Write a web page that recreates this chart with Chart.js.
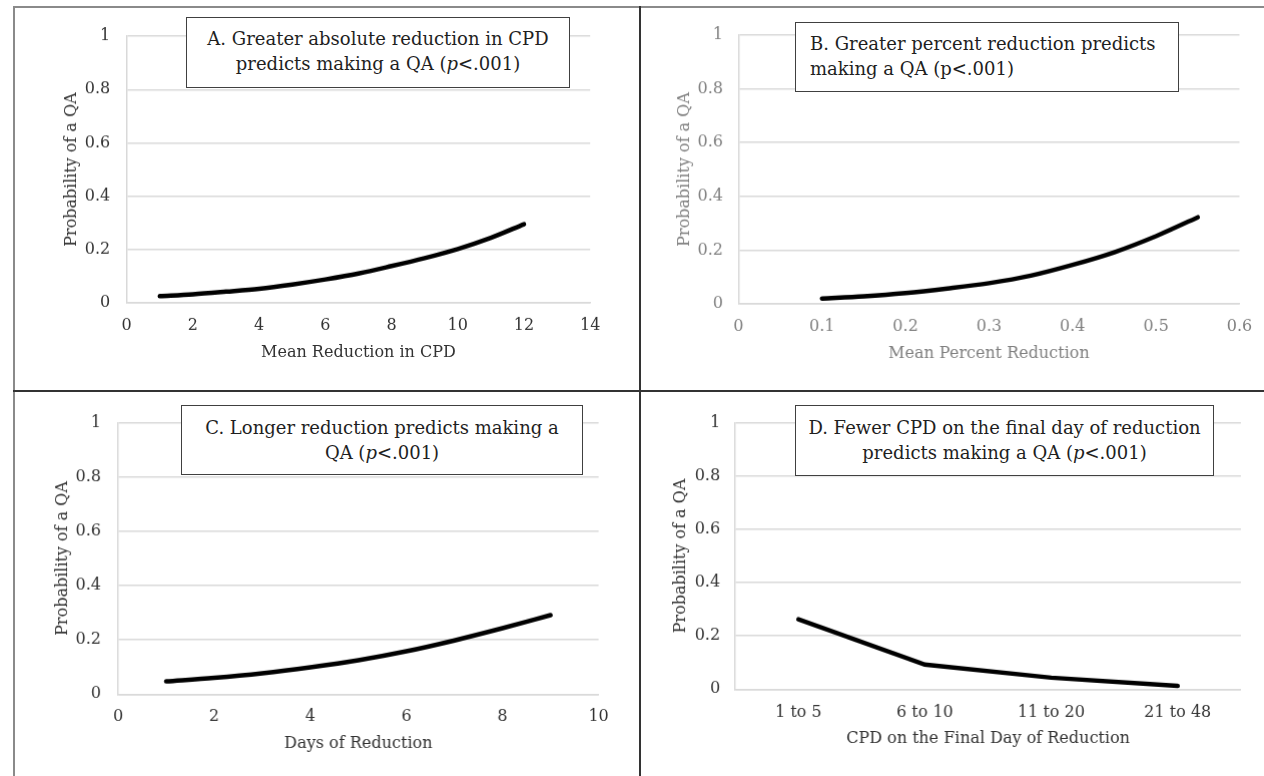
<!DOCTYPE html>
<html><head><meta charset="utf-8">
<script src="https://cdn.jsdelivr.net/npm/chart.js@4/dist/chart.umd.min.js"></script>
<style>
html,body{margin:0;padding:0;background:#fff;}
body{width:1264px;height:776px;overflow:hidden;position:relative;font-family:"DejaVu Serif",serif;}
.panel{position:absolute;}
.box{position:absolute;background:#fff;border:1.5px solid #404040;box-sizing:border-box;font-size:18px;color:#1f1f1f;line-height:25px;white-space:nowrap;}
.rule{position:absolute;}
</style></head><body>
<div class="panel" id="pA"><canvas id="cA"></canvas></div>
<div class="panel" id="pB"><canvas id="cB"></canvas></div>
<div class="panel" id="pC"><canvas id="cC"></canvas></div>
<div class="panel" id="pD"><canvas id="cD"></canvas></div>

<div class="box" style="left:186px;top:17px;width:384px;height:71px;text-align:center;padding-top:8px;">A. Greater absolute reduction in CPD<br>predicts making a QA (<i>p</i>&lt;.001)</div>
<div class="box" style="left:795px;top:22px;width:384px;height:70px;text-align:left;padding-top:8px;padding-left:14px;">B. Greater percent reduction predicts<br>making a QA (p&lt;.001)</div>
<div class="box" style="left:181px;top:405px;width:402px;height:70px;text-align:center;padding-top:9px;">C. Longer reduction predicts making a<br>QA (<i>p</i>&lt;.001)</div>
<div class="box" style="left:795px;top:405px;width:419px;height:71px;text-align:center;padding-top:9px;">D. Fewer CPD on the final day of reduction<br>predicts making a QA (<i>p</i>&lt;.001)</div>

<div class="rule" style="left:13px;top:5.5px;width:1251px;height:2px;background:#8a8a8a;"></div>
<div class="rule" style="left:12.5px;top:5.5px;width:2px;height:771px;background:#8a8a8a;"></div>
<div class="rule" style="left:638.5px;top:5.5px;width:2px;height:771px;background:#333;"></div>
<div class="rule" style="left:13px;top:390px;width:1251px;height:2px;background:#333;"></div>

<script>
// ---- data ----
const xA = [1, 2, 3, 4, 5, 6, 7, 8, 9, 10, 11, 12];
const yA = [0.025, 0.032, 0.042, 0.053, 0.069, 0.088, 0.110, 0.138, 0.168, 0.202, 0.244, 0.295];
const xB = [0.10, 0.15, 0.20, 0.25, 0.30, 0.35, 0.40, 0.45, 0.50, 0.55];
const yB = [0.020, 0.028, 0.040, 0.057, 0.077, 0.105, 0.145, 0.192, 0.252, 0.322];
const xC = [1, 2, 3, 4, 5, 6, 7, 8, 9];
const yC = [0.047, 0.060, 0.077, 0.099, 0.125, 0.158, 0.198, 0.243, 0.291];
const catD = ['1 to 5', '6 to 10', '11 to 20', '21 to 48'];
const yD = [0.262, 0.092, 0.043, 0.012];
const xTicksA = {min: 0, max: 14, step: 2};
const xTicksB = {min: 0, max: 0.6, step: 0.1};
const xTicksC = {min: 0, max: 10, step: 2};
const yRange = {min: 0, max: 1, step: 0.2};
const titlesX = ['Mean Reduction in CPD', 'Mean Percent Reduction', 'Days of Reduction', 'CPD on the Final Day of Reduction'];
const titleY = 'Probability of a QA';

Chart.defaults.font.family = "'DejaVu Serif', serif";
Chart.defaults.font.size = 16;
Chart.defaults.animation = false;

const GRID = '#d9d9d9';
const fmt = v => String(+(+v).toFixed(2));

function build(canvasId, panelId, L, data, xScale, xTitle, textColor, smooth) {
  const W = L.plotR - L.cl + 24;
  const H = L.plotB - L.ct + L.xh;
  const p = document.getElementById(panelId);
  p.style.left = L.cl + 'px'; p.style.top = L.ct + 'px';
  p.style.width = W + 'px'; p.style.height = H + 'px';
  xScale.title = {display: true, text: xTitle, color: textColor, padding: {top: 0, bottom: 0}};
  xScale.grid = {display: true, drawOnChartArea: false, drawTicks: false, color: GRID};
  xScale.border = {display: true, color: GRID, width: 1.5};
  xScale.ticks = Object.assign({color: textColor, padding: L.xpad, maxRotation: 0, autoSkip: false}, xScale.ticks || {});
  xScale.afterFit = s => { s.height = L.xh; };
  new Chart(document.getElementById(canvasId), {
    type: 'line',
    data: data,
    options: {
      responsive: true, maintainAspectRatio: false,
      layout: {autoPadding: false, padding: {top: L.plotT - L.ct, left: 0, bottom: 0, right: W - (L.plotR - L.cl)}},
      plugins: {legend: {display: false}, tooltip: {enabled: false}},
      elements: {point: {radius: 0}, line: {borderWidth: 4.5, borderColor: '#000', borderCapStyle: 'round', tension: smooth ? 0.4 : 0, cubicInterpolationMode: smooth ? 'monotone' : 'default'}},
      scales: {
        x: xScale,
        y: {
          min: yRange.min, max: yRange.max,
          ticks: {stepSize: yRange.step, color: textColor, padding: L.ypad, callback: fmt},
          grid: {color: GRID, lineWidth: 1.5, drawTicks: false},
          border: {display: true, color: GRID, width: 1.5},
          title: {display: true, text: titleY, color: textColor, padding: {top: 0, bottom: 0}},
          afterFit: s => { s.width = L.plotL - L.cl; }
        }
      }
    }
  });
}

function xy(xs, ys) { return xs.map((x, i) => ({x: x, y: ys[i]})); }

build('cA', 'pA', {cl: 61.8, ct: 10, plotL: 126.5, plotR: 590, plotT: 26.7, plotB: 302, xh: 59.6, xpad: 13.4, ypad: 16.5},
  {datasets: [{data: xy(xA, yA)}]},
  {type: 'linear', min: xTicksA.min, max: xTicksA.max, ticks: {stepSize: xTicksA.step, callback: fmt}},
  titlesX[0], '#333333', true);

build('cB', 'pB', {cl: 675, ct: 10, plotL: 738.4, plotR: 1240.6, plotT: 26.7, plotB: 303, xh: 59.9, xpad: 13.4, ypad: 15.4},
  {datasets: [{data: xy(xB, yB)}]},
  {type: 'linear', min: xTicksB.min, max: xTicksB.max, ticks: {stepSize: xTicksB.step, callback: fmt}},
  titlesX[1], '#808080', true);

build('cC', 'pC', {cl: 53.4, ct: 396, plotL: 118.4, plotR: 598, plotT: 413.3, plotB: 693.3, xh: 59.3, xpad: 13.1, ypad: 17},
  {datasets: [{data: xy(xC, yC)}]},
  {type: 'linear', min: xTicksC.min, max: xTicksC.max, ticks: {stepSize: xTicksC.step, callback: fmt}},
  titlesX[2], '#333333', true);

build('cD', 'pD', {cl: 670.9, ct: 398, plotL: 735, plotR: 1239.8, plotT: 416.7, plotB: 688.3, xh: 59.3, xpad: 13.8, ypad: 15},
  {labels: catD, datasets: [{data: yD}]},
  {type: 'category', offset: true},
  titlesX[3], '#333333', false);
</script>
</body></html>
